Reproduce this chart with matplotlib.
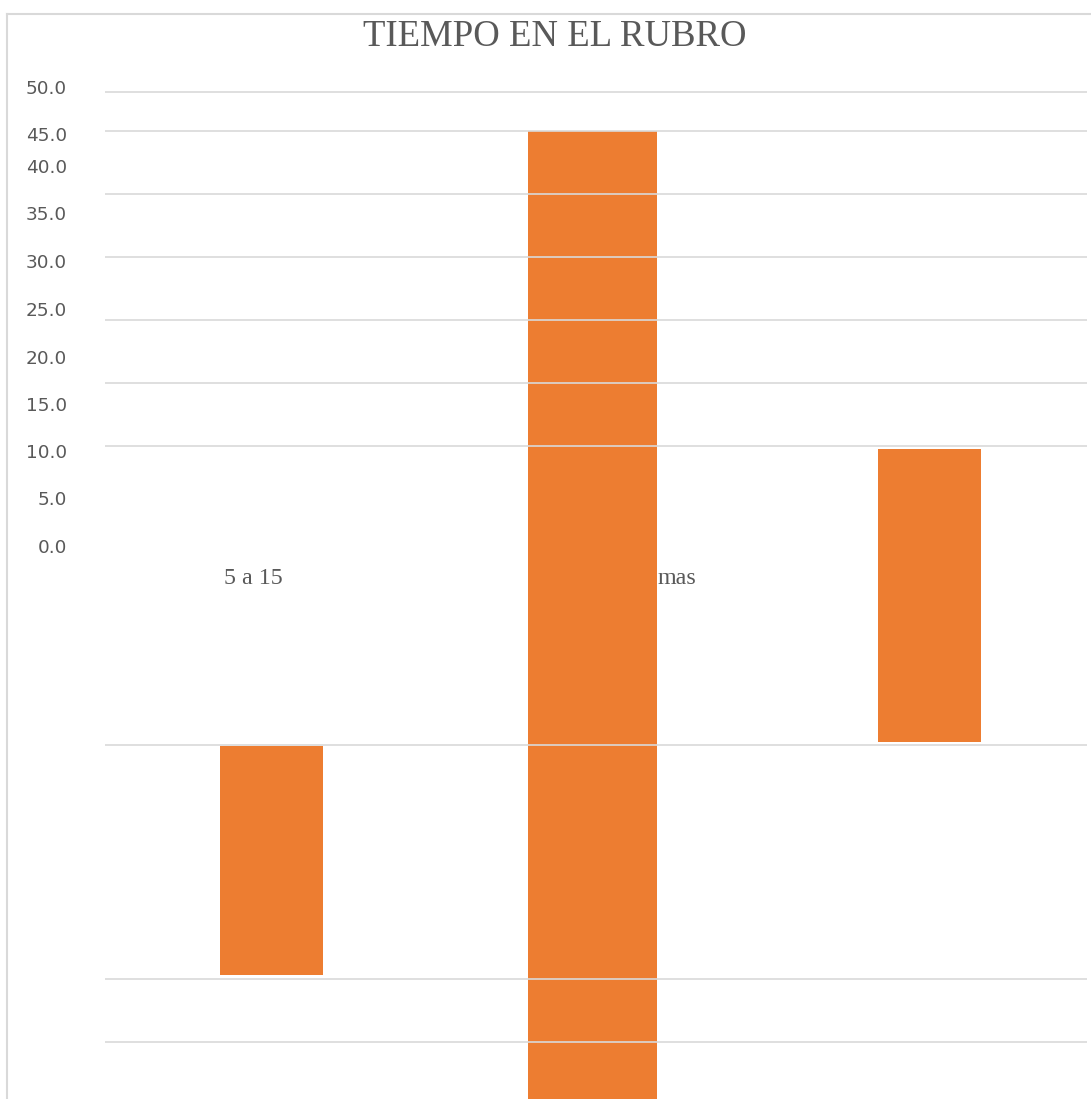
import matplotlib.pyplot as plt
from matplotlib.lines import Line2D

# ---------------------------------------------------------------- dati
TITOLO = "TIEMPO EN EL RUBRO"
ETICHETTE_Y = ["50.0", "45.0", "40.0", "35.0", "30.0", "25.0",
               "20.0", "15.0", "10.0", "5.0", "0.0"]
CATEGORIE = ["5 a 15", "mas"]

# barre (scala dell'asse verticale)
BARRE_BASE = [-22.0, -35.0, -3.5]
BARRE_CIMA = [-3.8, 45.0, 19.8]
# linee di griglia
GRIGLIA = [48.1, 45.0, 40.0, 35.0, 30.0, 25.0, 20.0, -3.7, -22.3, -27.3]

# ---------------------------------------------------------------- layout
W, H, DPI = 1091, 1099, 100
POS_X = [0.51, 1.49, 2.52]          # centri delle barre (unita' asse x)
LARGHEZZE = [0.315, 0.394, 0.315]
POS_ETICHETTE_Y = [48.5, 44.8, 42.2, 38.5, 34.7, 30.9, 27.1, 23.3, 19.6, 15.9, 12.1]
ARANCIO = "#ED7D31"
GRIGIO_TESTO = "#595959"
GRIGIO_LINEE = "#D9D9D9"


def px(x, y):
    return x / W, 1 - y / H


def main():
    fig = plt.figure(figsize=(W / DPI, H / DPI), dpi=DPI)
    ax = fig.add_axes([105 / W, 0, 982 / W, 1])
    ax.set_xlim(0, 3)
    ax.set_ylim(45 - 968 / 12.6, 45 + 131 / 12.6)

    altezze = [c - b for b, c in zip(BARRE_BASE, BARRE_CIMA)]
    ax.bar(POS_X, altezze, bottom=BARRE_BASE, width=LARGHEZZE,
           color=ARANCIO, zorder=2)
    for g in GRIGLIA:
        ax.axhline(g, color=GRIGIO_LINEE, linewidth=1.2, zorder=3)

    ax.set_yticks(POS_ETICHETTE_Y)
    ax.set_yticklabels(ETICHETTE_Y, fontsize=13.3, color=GRIGIO_TESTO,
                       family="DejaVu Sans")
    ax.tick_params(axis="y", length=0, pad=27.4)
    ax.set_xticks([])
    for s in ax.spines.values():
        s.set_visible(False)
    ax.patch.set_alpha(0)

    # cornice del grafico
    fig.add_artist(Line2D([7 / W, 1], [1 - 14 / H] * 2, color=GRIGIO_LINEE,
                          linewidth=1.5))
    fig.add_artist(Line2D([7 / W] * 2, [0, 1 - 14 / H], color=GRIGIO_LINEE,
                          linewidth=1.5))

    fig.text(*px(555, 37), TITOLO, family="Liberation Serif", fontsize=26.5,
             color=GRIGIO_TESTO, ha="center", va="center")
    fig.text(*px(253, 578), CATEGORIE[0], family="Liberation Serif",
             fontsize=17.3, color=GRIGIO_TESTO, ha="center", va="center")
    fig.text(*px(658, 578), CATEGORIE[1], family="Liberation Serif",
             fontsize=17.3, color=GRIGIO_TESTO, ha="left", va="center")

    fig.savefig("out.png", dpi=DPI)


if __name__ == "__main__":
    main()
